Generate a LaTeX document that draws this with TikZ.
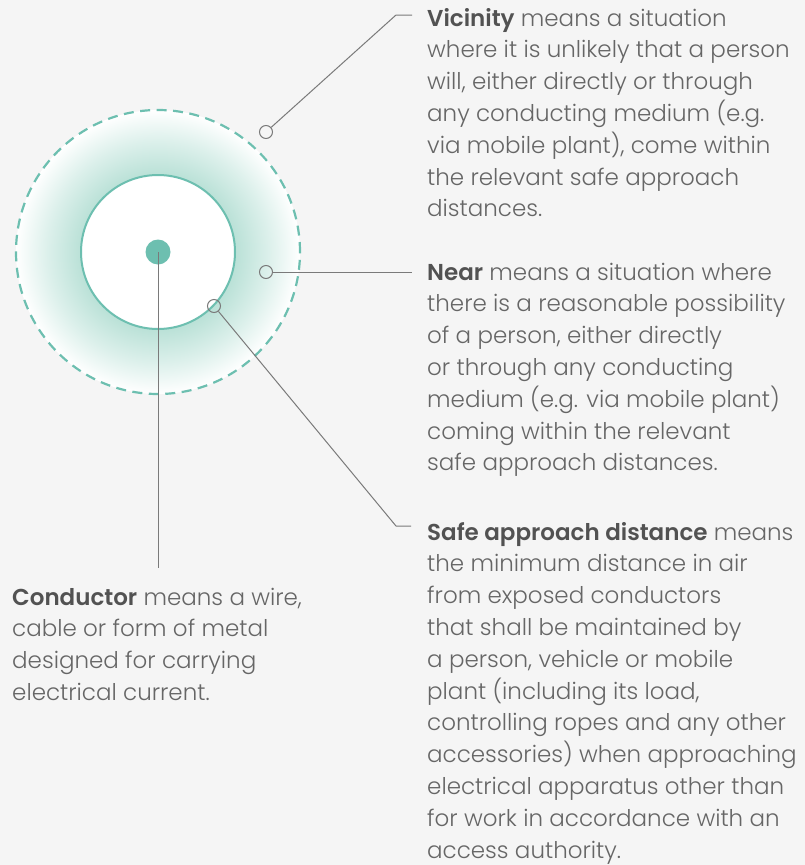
\documentclass[tikz,border=0pt]{standalone}
\usepackage{fontspec}
\setmainfont{Poppins Light}[BoldFont={Poppins SemiBold}]
\definecolor{bgc}{HTML}{F5F5F5}
\definecolor{ctealx}{HTML}{6DBFB0}
\definecolor{shA}{RGB}{186,225,215}
\definecolor{shB}{RGB}{220,240,235}
\definecolor{leadc}{HTML}{7A7A7A}
\definecolor{txtc}{HTML}{666666}
\definecolor{boldc}{HTML}{525252}
\pgfdeclareradialshading{ringshade}{\pgfpoint{0bp}{0bp}}{color(0bp)=(shA);color(13.6bp)=(shA);color(19.5bp)=(shB);color(25bp)=(white);color(50bp)=(white)}
\newcommand{\hl}[1]{{\bfseries\color{boldc}#1}}
\begin{document}
\begin{tikzpicture}[x=1pt,y=-1pt,
  lead/.style={draw=leadc, line width=1pt},
  marker/.style={circle, draw=leadc, line width=1pt, minimum size=13pt, inner sep=0pt, fill=none},
  txt/.style={anchor=base west, align=left, inner sep=0pt, text=txtc, font=\fontsize{23}{31.8}\selectfont}]
\fill[bgc] (0,0) rectangle (805,865);
\useasboundingbox (0,0) rectangle (805,865);
\coordinate (c) at (158,252);
\shade[shading=ringshade] (c) circle[radius=142pt];
\draw[ctealx, line width=2.2pt, dash pattern=on 10pt off 6.5pt] (c) circle[radius=142pt];
\node[circle, draw=ctealx, fill=white, line width=2pt, minimum size=154pt, inner sep=0pt] (inner) at (c) {};
\node[circle, fill=ctealx, minimum size=25pt, inner sep=0pt] (dot) at (c) {};
% markers
\node[marker] (m1) at (266,132) {};
\node[marker] (m2) at (266,272) {};
\node[marker] (m3) at (214,306) {};
\coordinate (v1) at (396,15);
\coordinate (v2) at (412,15);
\coordinate (n2) at (412,272);
\coordinate (s1) at (396,526);
\coordinate (s2) at (411,526);
\coordinate (k1) at (158,568);
\draw[lead] (m1) -- (v1) -- (v2);
\draw[lead] (m2) -- (n2);
\draw[lead] (m3) -- (s1) -- (s2);
\draw[lead] (c) -- (k1);
% texts (base anchor = baseline of last line)
\node[txt] (tv) at (427,216.8) {\hl{Vicinity} means a situation\\where it is unlikely that a person\\will, either directly or through\\any conducting medium (e.g.\\via mobile plant), come within\\the relevant safe approach\\distances.};
\node[txt] (tn) at (427,470.8) {\hl{Near} means a situation where\\there is a reasonable possibility\\of a person, either directly\\or through any conducting\\medium (e.g. via mobile plant)\\coming within the relevant\\safe approach distances.};
\node[txt] (ts) at (427,858) {\hl{Safe approach distance} means\\the minimum distance in air\\from exposed conductors\\that shall be maintained by\\a person, vehicle or mobile\\plant (including its load,\\controlling ropes and any other\\accessories) when approaching\\electrical apparatus other than\\for work in accordance with an\\access authority.};
\node[txt] (tc) at (12,700.4) {\hl{Conductor} means a wire,\\cable or form of metal\\designed for carrying\\electrical current.};
\end{tikzpicture}
\end{document}
